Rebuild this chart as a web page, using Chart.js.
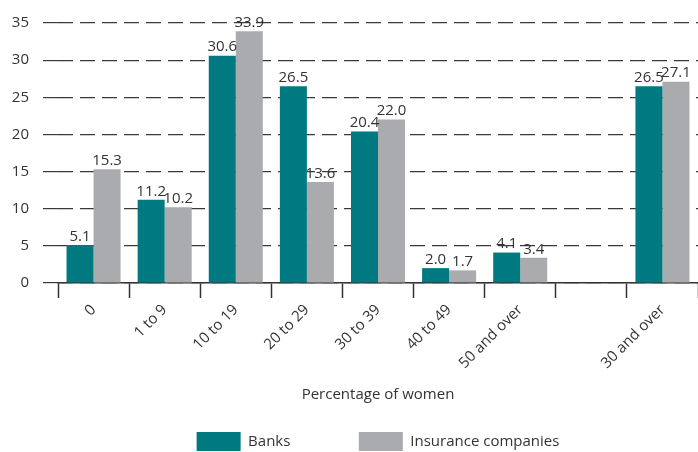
<!DOCTYPE html>
<html>
<head>
<meta charset="utf-8">
<script src="https://cdn.jsdelivr.net/npm/chart.js@4"></script>
<style>
  html, body { margin: 0; padding: 0; background: #fff; }
  #wrap { width: 698px; height: 452px; position: relative; }
</style>
</head>
<body>
<div id="wrap"><canvas id="chart"></canvas></div>
<script>
// Share of boards by percentage of women

const categories = ['0', '1 to 9', '10 to 19', '20 to 29', '30 to 39', '40 to 49', '50 and over', '', '30 and over'];
const banks = [5.1, 11.2, 30.6, 26.5, 20.4, 2.0, 4.1, null, 26.5];
const insurance = [15.3, 10.2, 33.9, 13.6, 22.0, 1.7, 3.4, null, 27.1];
const yTicks = [0, 5, 10, 15, 20, 25, 30, 35];

const FONT = '"Open Sans", "Noto Sans", sans-serif';
const TEXT = '#333333';

// ===== VALUE LABELS ABOVE BARS =====
const valueLabels = {
  id: 'valueLabels',
  afterDatasetsDraw(chart) {
    const ctx = chart.ctx;
    ctx.save();
    ctx.font = '15px ' + FONT;
    ctx.fillStyle = TEXT;
    ctx.textAlign = 'center';
    ctx.textBaseline = 'bottom';
    chart.data.datasets.forEach((ds, i) => {
      chart.getDatasetMeta(i).data.forEach((bar, j) => {
        const v = ds.data[j];
        if (v === null) return;
        ctx.fillText(v.toFixed(1), bar.x, bar.y - 1);
      });
    });
    ctx.restore();
  }
};

const ctx = document.getElementById('chart').getContext('2d');
new Chart(ctx, {
  type: 'bar',
  data: {
    labels: categories,
    datasets: [
      { label: 'Banks', data: banks, backgroundColor: '#007a80' },
      { label: 'Insurance companies', data: insurance, backgroundColor: '#a9abae' }
    ]
  },
  options: {
    responsive: true,
    maintainAspectRatio: false,
    animation: false,
    layout: { padding: { top: 17, right: 0, left: 0, bottom: -9 } },
    datasets: {
      bar: { categoryPercentage: 0.76, barPercentage: 1.0 }
    },
    plugins: {
      legend: {
        position: 'bottom',
        fullSize: false,
        labels: {
          boxWidth: 44,
          boxHeight: 19,
          padding: 10,
          color: TEXT,
          font: { family: FONT, size: 15 },
          // widen the first item so the second one sits further right
          generateLabels(chart) {
            const items = Chart.defaults.plugins.legend.labels.generateLabels(chart);
            items[0].text = items[0].text + '\u00a0'.repeat(15);
            return items;
          }
        }
      },
      tooltip: { enabled: false }
    },
    scales: {
      x: {
        grid: {
          offset: true,
          drawOnChartArea: false,
          drawTicks: true,
          tickLength: 15,
          tickColor: '#333',
          tickWidth: 1.5
        },
        border: { display: true, color: '#333', width: 1.5 },
        ticks: {
          color: TEXT,
          font: { family: FONT, size: 15 },
          maxRotation: 45,
          minRotation: 45,
          padding: 3
        },
        title: {
          display: true,
          text: 'Percentage of women',
          color: TEXT,
          font: { family: FONT, size: 15 },
          padding: { top: 0, bottom: 18 }
        },
        afterFit(scale) { scale.height = 139; }
      },
      y: {
        min: 0,
        max: 35,
        afterBuildTicks(scale) {
          scale.ticks = yTicks.map((v) => ({ value: v }));
        },
        afterFit(scale) { scale.width = 58; },
        grid: {
          color: '#3a3a3a',
          lineWidth: 1.2,
          drawTicks: true,
          tickLength: 15,
          tickColor: '#3a3a3a',
          tickWidth: 1.2,
          tickBorderDash: (c) => (c.tick && c.tick.value === 0 ? [] : [15, 7])
        },
        border: { display: false, dash: [15, 7] },
        ticks: {
          color: TEXT,
          font: { family: FONT, size: 15 },
          padding: 14
        }
      }
    }
  },
  plugins: [valueLabels]
});
</script>
</body>
</html>
